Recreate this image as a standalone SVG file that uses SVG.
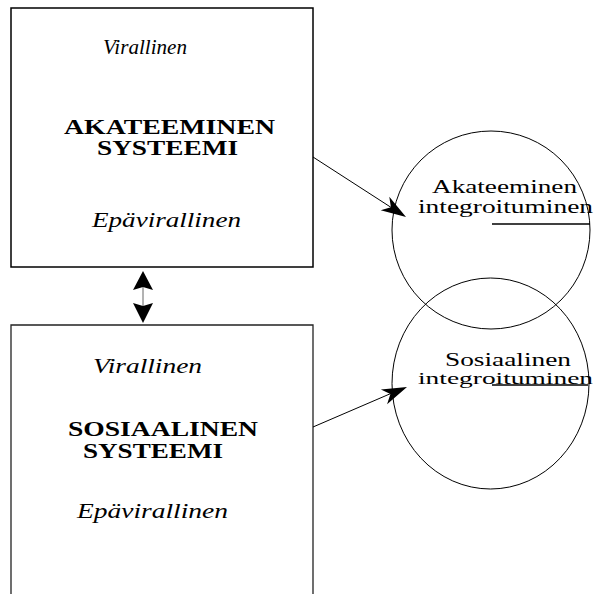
<svg xmlns="http://www.w3.org/2000/svg" width="594" height="594" viewBox="0 0 594 594">
<style>
text{font-family:"Liberation Serif","Times New Roman",serif;fill:#000}
.it{font-style:italic;font-size:20px}
.bd{font-weight:bold;font-size:20px}
.rg{font-size:19px}
.sm{font-size:17px}
.box{fill:none;stroke:#000;stroke-width:1.5}
.circ{fill:none;stroke:#000;stroke-width:1}
.ln{stroke:#000;stroke-width:1;fill:none}
.head{fill:#000;stroke:none}
</style>
<rect width="594" height="594" fill="#fff"/>
<g id="akateeminen-systeemi">
<rect class="box" x="11" y="8" width="302" height="259"/>
<text class="it" x="103" y="54" textLength="84" lengthAdjust="spacingAndGlyphs">Virallinen</text>
<text class="bd" x="64" y="134" textLength="211" lengthAdjust="spacingAndGlyphs">AKATEEMINEN</text>
<text class="bd" x="97" y="155" textLength="141" lengthAdjust="spacingAndGlyphs">SYSTEEMI</text>
<text class="it" x="92" y="227" textLength="149" lengthAdjust="spacingAndGlyphs">Epävirallinen</text>
</g>
<g id="sosiaalinen-systeemi">
<path class="box" d="M11,600 V325 H313 V600" style="stroke:#222;stroke-width:1.3"/>
<text class="it" x="93" y="373" textLength="109" lengthAdjust="spacingAndGlyphs">Virallinen</text>
<text class="bd" x="68" y="436" textLength="190" lengthAdjust="spacingAndGlyphs">SOSIAALINEN</text>
<text class="bd" x="83" y="458" textLength="140" lengthAdjust="spacingAndGlyphs">SYSTEEMI</text>
<text class="it" x="77" y="518" textLength="151" lengthAdjust="spacingAndGlyphs">Epävirallinen</text>
</g>
<g id="akateeminen-integroituminen">
<circle class="circ" cx="491" cy="230" r="99"/>
<text class="rg" x="432" y="193" textLength="145" lengthAdjust="spacingAndGlyphs">Akateeminen</text>
<text class="rg" x="418" y="213" textLength="175" lengthAdjust="spacingAndGlyphs">integroituminen</text>
<line x1="492" y1="224" x2="590" y2="224" stroke="#000" stroke-width="1.5"/>
</g>
<g id="sosiaalinen-integroituminen">
<ellipse class="circ" cx="490.5" cy="383.5" rx="98.5" ry="105.5"/>
<text class="rg" x="445" y="366" textLength="126" lengthAdjust="spacingAndGlyphs">Sosiaalinen</text>
<text class="sm" x="418" y="384" textLength="175" lengthAdjust="spacingAndGlyphs">integroituminen</text>
<line x1="492" y1="385" x2="588" y2="385" stroke="#000" stroke-width="1.5"/>
</g>
<g id="connectors">
<line class="ln" x1="313" y1="157" x2="392" y2="208"/>
<polygon class="head" points="406,217 380.7,210.2 390.9,207.3 389.3,196.8"/>
<line class="ln" x1="313" y1="427" x2="392" y2="393"/>
<polygon class="head" points="407,387 380.9,389.4 390.4,394 387.1,404.2"/>
<line x1="143" y1="285" x2="143" y2="307" stroke="#666" stroke-width="1"/>
<polygon class="head" points="143,271 133,290 143,287 153,290"/>
<polygon class="head" points="143,323 133,303 143,306 153,303"/>
</g>
</svg>
